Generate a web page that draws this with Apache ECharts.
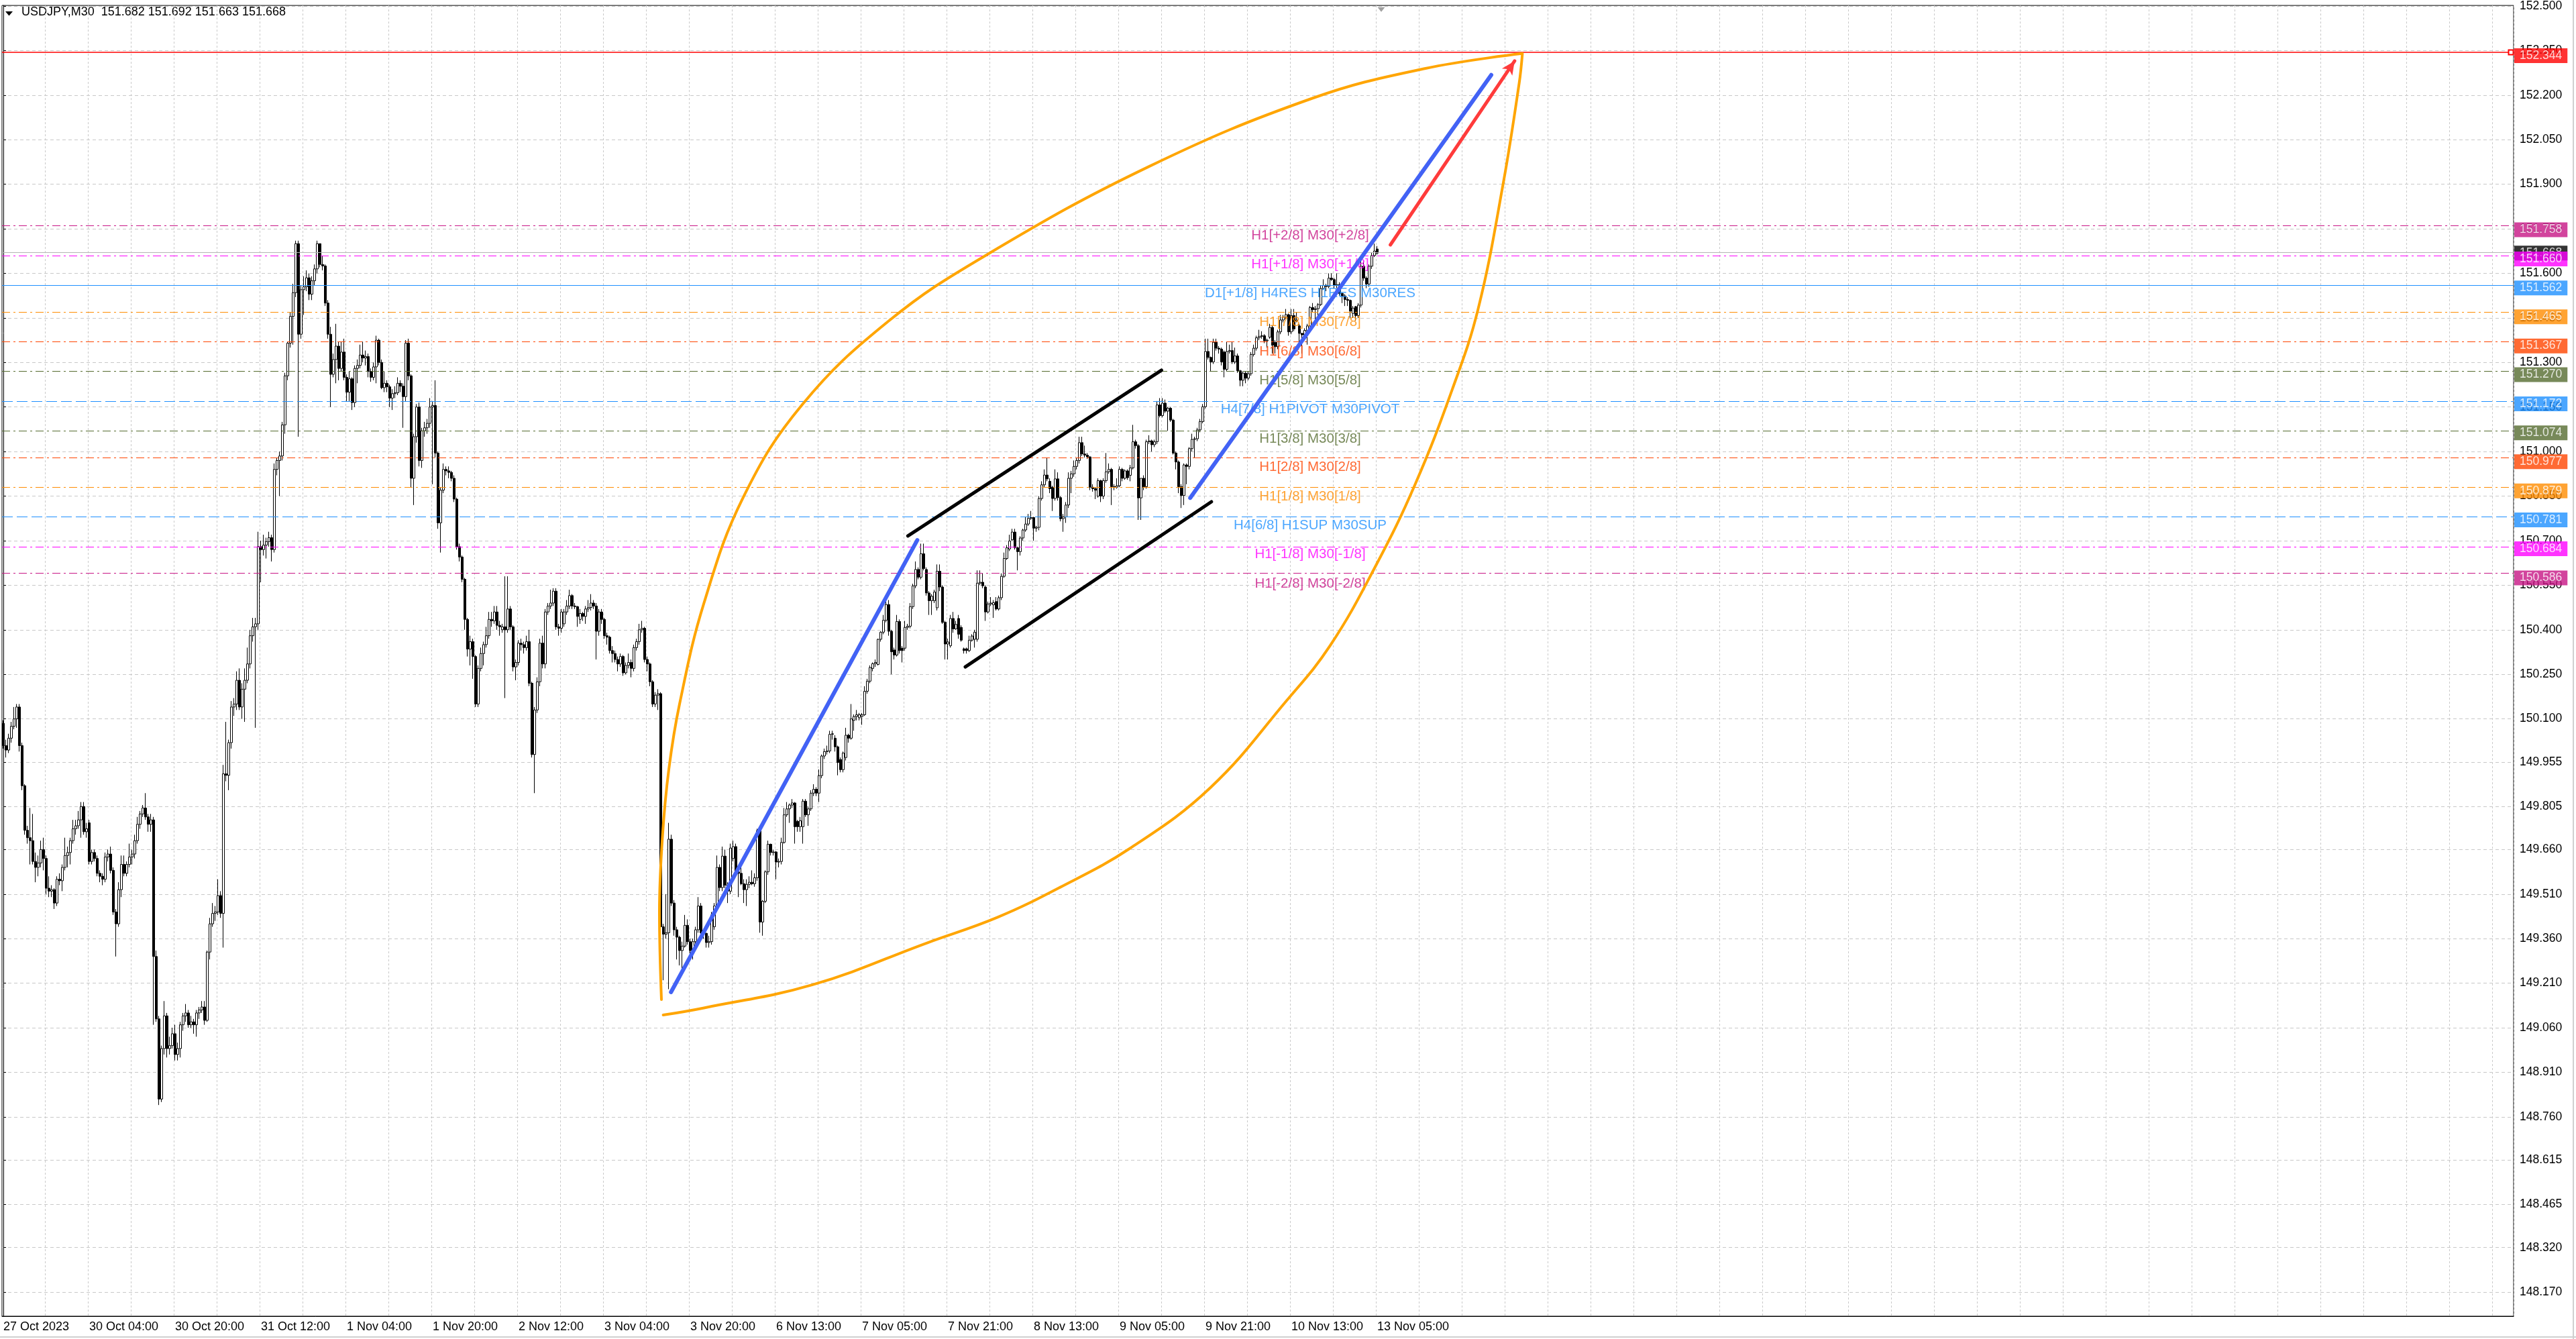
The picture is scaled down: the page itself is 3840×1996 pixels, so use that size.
<!DOCTYPE html>
<html>
<head>
<meta charset="utf-8">
<title>USDJPY,M30</title>
<script src="https://cdn.jsdelivr.net/npm/echarts@6/dist/echarts.min.js"></script>
<style>
  html, body { margin: 0; padding: 0; background: #ffffff; }
  #chart { width: 3840px; height: 1996px; }
</style>
</head>
<body>
<div id="chart"></div>
<script>
// symbol / period shown in the top-left caption
var symbolName = 'USDJPY';
var period = 'M30';

// bottom axis: one label every 32 bars
var timeLabels = ['27 Oct 2023', '30 Oct 04:00', '30 Oct 20:00', '31 Oct 12:00', '1 Nov 04:00',
    '1 Nov 20:00', '2 Nov 12:00', '3 Nov 04:00', '3 Nov 20:00', '6 Nov 13:00', '7 Nov 05:00',
    '7 Nov 21:00', '8 Nov 13:00', '9 Nov 05:00', '9 Nov 21:00', '10 Nov 13:00', '13 Nov 05:00'];
var barsPerLabel = 32;
var slotCount = 936; // bars + empty space on the right

// right axis tick labels (MT4 rounding)
var priceTicks = [152.500, 152.350, 152.200, 152.050, 151.900, 151.750, 151.600, 151.450, 151.300,
    151.150, 151.000, 150.850, 150.700, 150.550, 150.400, 150.250, 150.100, 149.955, 149.805,
    149.660, 149.510, 149.360, 149.210, 149.060, 148.910, 148.760, 148.615, 148.465, 148.320, 148.170];

// M30 bars: [open, high, low, close]
var bars = [
    [150.085,150.095,150.000,150.010],[150.010,150.030,149.970,149.995],[149.995,150.050,149.985,150.035],[150.035,150.090,150.020,150.075],
    [150.075,150.140,150.065,150.100],[150.100,150.150,150.070,150.140],[150.140,150.150,149.990,150.010],[150.010,150.020,149.860,149.875],
    [149.875,149.880,149.710,149.725],[149.725,149.740,149.680,149.700],[149.700,149.800,149.610,149.690],[149.690,149.780,149.610,149.620],
    [149.620,149.650,149.550,149.600],[149.600,149.640,149.570,149.615],[149.615,149.690,149.600,149.660],[149.660,149.700,149.590,149.630],
    [149.630,149.640,149.510,149.530],[149.530,149.570,149.500,149.520],[149.520,149.540,149.500,149.525],[149.525,149.530,149.460,149.480],
    [149.480,149.570,149.470,149.560],[149.560,149.580,149.540,149.555],[149.555,149.610,149.520,149.600],[149.600,149.700,149.590,149.640],
    [149.640,149.670,149.600,149.650],[149.650,149.700,149.610,149.690],[149.690,149.760,149.680,149.730],[149.730,149.760,149.710,149.740],
    [149.740,149.790,149.730,149.760],[149.760,149.820,149.700,149.805],[149.805,149.820,149.710,149.720],[149.720,149.750,149.700,149.730],
    [149.750,149.760,149.610,149.620],[149.620,149.660,149.610,149.650],[149.650,149.660,149.620,149.630],[149.630,149.640,149.570,149.580],
    [149.580,149.590,149.550,149.570],[149.570,149.580,149.540,149.560],[149.560,149.650,149.550,149.635],[149.635,149.660,149.620,149.645],
    [149.645,149.670,149.580,149.590],[149.590,149.600,149.440,149.450],[149.450,149.460,149.300,149.410],[149.410,149.550,149.400,149.525],
    [149.525,149.640,149.500,149.610],[149.610,149.640,149.570,149.580],[149.580,149.620,149.570,149.610],[149.610,149.680,149.600,149.635],
    [149.635,149.660,149.610,149.645],[149.645,149.710,149.630,149.690],[149.690,149.770,149.680,149.745],[149.745,149.790,149.730,149.780],
    [149.780,149.810,149.770,149.800],[149.800,149.850,149.760,149.770],[149.770,149.780,149.720,149.745],[149.745,149.780,149.720,149.760],
    [149.760,149.770,149.070,149.300],[149.300,149.320,149.080,149.090],[149.090,149.100,148.800,148.820],[148.820,149.000,148.810,148.990],
    [148.990,149.150,148.970,149.100],[149.100,149.110,148.960,148.990],[148.990,149.030,148.970,149.000],[149.000,149.060,148.990,149.040],
    [149.040,149.070,148.950,148.970],[148.970,149.010,148.950,148.990],[148.990,149.080,148.960,149.070],[149.070,149.110,149.050,149.100],
    [149.100,149.140,149.080,149.110],[149.110,149.120,149.060,149.070],[149.070,149.100,149.060,149.080],[149.080,149.090,149.040,149.070],
    [149.070,149.120,149.030,149.110],[149.110,149.130,149.090,149.120],[149.120,149.150,149.110,149.130],[149.130,149.150,149.070,149.085],
    [149.085,149.320,149.080,149.315],[149.315,149.430,149.290,149.410],[149.410,149.480,149.400,149.445],[149.445,149.470,149.420,149.450],
    [149.450,149.560,149.440,149.505],[149.505,149.520,149.430,149.445],[149.445,149.945,149.330,149.915],[149.915,150.090,149.890,149.910],
    [149.910,150.030,149.860,150.020],[150.020,150.160,150.000,150.140],[150.140,150.170,150.110,150.150],[150.150,150.260,150.130,150.230],
    [150.230,150.270,150.130,150.140],[150.140,150.220,150.100,150.200],[150.200,150.270,150.090,150.230],[150.230,150.340,150.220,150.285],
    [150.285,150.400,150.270,150.380],[150.380,150.440,150.360,150.410],[150.410,150.440,150.070,150.420],[150.420,150.730,150.400,150.680],
    [150.680,150.700,150.560,150.670],[150.670,150.720,150.650,150.685],[150.685,150.710,150.640,150.697],[150.697,150.730,150.680,150.710],
    [150.710,150.720,150.630,150.670],[150.670,150.960,150.660,150.940],[150.940,150.980,150.920,150.970],[150.970,151.000,150.850,150.985],
    [150.985,151.100,150.970,151.090],[151.090,151.265,151.060,151.255],[151.255,151.370,151.240,151.365],[151.365,151.470,151.350,151.455],
    [151.455,151.565,151.360,151.535],[151.535,151.710,151.520,151.700],[151.700,151.710,151.050,151.395],[151.395,151.560,151.380,151.545],
    [151.545,151.590,151.460,151.555],[151.555,151.610,151.540,151.585],[151.585,151.600,151.510,151.530],[151.530,151.590,151.510,151.575],
    [151.575,151.630,151.560,151.615],[151.615,151.710,151.600,151.700],[151.700,151.700,151.620,151.630],[151.630,151.660,151.610,151.625],
    [151.625,151.630,151.490,151.500],[151.500,151.510,151.380,151.395],[151.395,151.420,151.150,151.260],[151.260,151.330,151.250,151.310],
    [151.310,151.430,151.230,151.355],[151.355,151.370,151.240,151.280],[151.280,151.370,151.270,151.335],[151.335,151.380,151.240,151.250],
    [151.250,151.260,151.170,151.200],[151.200,151.270,151.170,151.245],[151.245,151.250,151.140,151.165],[151.165,151.290,151.150,151.280],
    [151.280,151.310,151.230,151.290],[151.290,151.360,151.280,151.325],[151.325,151.370,151.300,151.315],[151.315,151.340,151.290,151.320],
    [151.320,151.330,151.250,151.270],[151.270,151.280,151.235,151.250],[151.250,151.300,151.240,151.285],[151.285,151.390,151.230,151.375],
    [151.375,151.380,151.290,151.300],[151.300,151.310,151.210,151.215],[151.215,151.270,151.200,151.230],[151.230,151.240,151.200,151.218],
    [151.218,151.225,151.150,151.180],[151.180,151.210,151.140,151.195],[151.195,151.220,151.180,151.198],[151.198,151.250,151.190,151.230],
    [151.230,151.240,151.200,151.220],[151.220,151.230,151.080,151.185],[151.185,151.375,151.170,151.365],[151.365,151.380,151.240,151.255],
    [151.255,151.260,150.880,150.910],[150.910,151.060,150.820,151.050],[151.050,151.160,151.030,151.150],[151.150,151.165,150.950,150.970],
    [150.970,151.080,150.945,151.070],[151.070,151.100,151.050,151.080],[151.080,151.110,151.060,151.095],[151.095,151.180,151.080,151.150],
    [151.150,151.170,150.890,151.155],[151.155,151.240,150.980,150.995],[150.995,151.000,150.740,150.760],[150.760,150.880,150.660,150.870],
    [150.870,150.960,150.860,150.940],[150.940,150.950,150.920,150.935],[150.935,150.950,150.910,150.930],[150.930,150.935,150.900,150.910],
    [150.910,150.920,150.830,150.840],[150.840,150.845,150.670,150.680],[150.680,150.690,150.630,150.645],[150.645,150.650,150.560,150.570],
    [150.570,150.575,150.400,150.435],[150.435,150.440,150.310,150.335],[150.335,150.380,150.280,150.360],[150.360,150.370,150.235,150.310],
    [150.310,150.315,150.140,150.150],[150.150,150.280,150.140,150.270],[150.270,150.340,150.260,150.320],[150.320,150.360,150.280,150.350],
    [150.350,150.410,150.340,150.380],[150.380,150.460,150.370,150.435],[150.435,150.460,150.410,150.430],[150.430,150.480,150.420,150.460],
    [150.460,150.480,150.400,150.415],[150.415,150.430,150.380,150.410],[150.400,150.420,150.390,150.410],[150.410,150.580,150.170,150.400],
    [150.400,150.580,150.390,150.470],[150.470,150.480,150.400,150.410],[150.410,150.415,150.260,150.275],[150.275,150.300,150.230,150.290],
    [150.290,150.365,150.280,150.355],[150.355,150.370,150.330,150.350],[150.350,150.360,150.320,150.340],[150.340,150.380,150.330,150.360],
    [150.360,150.400,150.210,150.220],[150.220,150.225,149.970,149.980],[149.980,150.140,149.850,150.130],[150.130,150.240,150.120,150.225],
    [150.225,150.370,150.210,150.355],[150.355,150.380,150.270,150.285],[150.285,150.470,150.270,150.460],[150.460,150.490,150.450,150.480],
    [150.480,150.535,150.470,150.490],[150.490,150.540,150.480,150.530],[150.530,150.540,150.400,150.410],[150.410,150.420,150.380,150.405],
    [150.405,150.470,150.390,150.460],[150.420,150.470,150.410,150.460],[150.460,150.500,150.450,150.480],[150.480,150.535,150.470,150.515],
    [150.515,150.520,150.470,150.480],[150.480,150.490,150.470,150.478],[150.478,150.480,150.410,150.445],[150.435,150.470,150.420,150.455],
    [150.455,150.460,150.430,150.445],[150.445,150.480,150.420,150.470],[150.470,150.500,150.460,150.475],[150.475,150.520,150.465,150.490],
    [150.490,150.500,150.470,150.480],[150.480,150.490,150.300,150.395],[150.395,150.470,150.380,150.460],[150.460,150.470,150.420,150.435],
    [150.435,150.440,150.370,150.380],[150.380,150.390,150.350,150.375],[150.375,150.380,150.320,150.330],[150.330,150.345,150.290,150.320],
    [150.320,150.330,150.290,150.300],[150.300,150.310,150.260,150.285],[150.285,150.320,150.275,150.310],[150.310,150.315,150.245,150.255],
    [150.255,150.290,150.250,150.280],[150.280,150.320,150.270,150.290],[150.290,150.300,150.240,150.270],[150.270,150.350,150.260,150.340],
    [150.340,150.370,150.330,150.360],[150.360,150.420,150.350,150.400],[150.400,150.430,150.390,150.405],[150.405,150.410,150.290,150.300],
    [150.300,150.310,150.260,150.285],[150.285,150.290,150.210,150.225],[150.225,150.230,150.140,150.150],[150.150,150.190,150.140,150.180],
    [150.180,150.200,150.130,150.185],[150.185,150.190,149.370,149.400],[149.400,149.410,149.220,149.375],[149.375,149.510,149.360,149.380],
    [149.380,149.750,149.190,149.695],[149.695,149.710,149.470,149.480],[149.480,149.490,149.370,149.390],[149.390,149.400,149.290,149.365],
    [149.365,149.370,149.270,149.320],[149.320,149.350,149.250,149.335],[149.335,149.440,149.330,149.405],[149.405,149.425,149.340,149.350],
    [149.350,149.360,149.300,149.320],[149.320,149.360,149.290,149.350],[149.350,149.400,149.340,149.390],[149.390,149.500,149.380,149.470],
    [149.470,149.480,149.370,149.380],[149.380,149.390,149.360,149.378],[149.378,149.380,149.330,149.347],[149.347,149.370,149.330,149.350],
    [149.350,149.450,149.340,149.440],[149.400,149.480,149.390,149.470],[149.470,149.640,149.460,149.600],[149.600,149.610,149.520,149.532],
    [149.532,149.670,149.520,149.638],[149.638,149.660,149.530,149.540],[149.540,149.550,149.480,149.520],[149.520,149.680,149.510,149.665],
    [149.630,149.690,149.620,149.670],[149.670,149.680,149.580,149.585],[149.585,149.590,149.500,149.580],[149.580,149.600,149.540,149.545],
    [149.545,149.560,149.480,149.525],[149.525,149.560,149.470,149.543],[149.543,149.570,149.530,149.550],[149.550,149.590,149.540,149.545],
    [149.545,149.580,149.535,149.565],[149.565,149.730,149.555,149.724],[149.724,149.730,149.380,149.416],[149.416,149.490,149.370,149.486],
    [149.486,149.590,149.480,149.585],[149.585,149.690,149.575,149.678],[149.678,149.680,149.640,149.650],[149.650,149.660,149.640,149.652],
    [149.652,149.655,149.560,149.618],[149.618,149.630,149.600,149.620],[149.620,149.700,149.610,149.684],[149.684,149.800,149.680,149.777],
    [149.777,149.820,149.770,149.797],[149.797,149.815,149.750,149.810],[149.810,149.830,149.800,149.817],[149.817,149.820,149.680,149.737],
    [149.755,149.760,149.720,149.737],[149.737,149.770,149.720,149.757],[149.737,149.830,149.680,149.823],[149.823,149.830,149.770,149.777],
    [149.777,149.805,149.740,149.797],[149.797,149.860,149.790,149.850],[149.850,149.880,149.840,149.863],[149.863,149.870,149.840,149.850],
    [149.850,149.930,149.820,149.909],[149.909,149.980,149.900,149.975],[149.975,150.000,149.965,149.990],[149.990,150.010,149.980,149.992],
    [149.992,150.060,149.985,150.048],[150.048,150.060,150.030,150.050],[150.035,150.045,149.990,150.006],[150.006,150.010,149.910,149.953],
    [149.963,149.970,149.920,149.929],[149.929,149.990,149.920,149.985],[149.970,150.070,149.960,150.045],[150.045,150.050,150.020,150.035],
    [150.035,150.150,150.030,150.100],[150.095,150.115,150.060,150.108],[150.108,150.130,150.095,150.114],[150.104,150.120,150.095,150.114],
    [150.108,150.120,150.080,150.114],[150.114,150.210,150.110,150.193],[150.193,150.235,150.185,150.227],[150.227,150.280,150.220,150.273],
    [150.270,150.290,150.260,150.286],[150.286,150.300,150.275,150.290],[150.283,150.370,150.280,150.368],[150.368,150.395,150.360,150.392],
    [150.392,150.450,150.385,150.432],[150.432,150.500,150.425,150.485],[150.485,150.500,150.380,150.395],[150.395,150.400,150.250,150.326],
    [150.332,150.340,150.300,150.315],[150.315,150.450,150.310,150.428],[150.428,150.435,150.320,150.330],[150.338,150.345,150.290,150.330],
    [150.338,150.430,150.330,150.408],[150.408,150.420,150.400,150.412],[150.412,150.490,150.405,150.478],[150.478,150.555,150.470,150.548],
    [150.548,150.630,150.540,150.603],[150.603,150.610,150.570,150.577],[150.577,150.690,150.570,150.656],[150.656,150.690,150.600,150.606],
    [150.603,150.610,150.515,150.524],[150.524,150.530,150.450,150.498],[150.498,150.520,150.450,150.513],[150.498,150.535,150.490,150.527],
    [150.474,150.620,150.465,150.597],[150.597,150.620,150.530,150.544],[150.544,150.550,150.420,150.425],[150.425,150.430,150.300,150.352],
    [150.352,150.370,150.300,150.359],[150.346,150.450,150.340,150.438],[150.438,150.460,150.390,150.403],[150.403,150.430,150.400,150.418],
    [150.438,150.450,150.370,150.385],[150.408,150.415,150.360,150.365],[150.336,150.340,150.320,150.330],[150.336,150.340,150.320,150.330],
    [150.330,150.380,150.325,150.365],[150.365,150.385,150.360,150.379],[150.368,150.400,150.340,150.392],[150.368,150.600,150.360,150.557],
    [150.557,150.600,150.550,150.560],[150.560,150.590,150.540,150.548],[150.544,150.550,150.430,150.460],[150.460,150.495,150.455,150.487],
    [150.487,150.510,150.480,150.490],[150.484,150.500,150.440,150.491],[150.495,150.510,150.465,150.470],[150.470,150.515,150.465,150.508],
    [150.508,150.590,150.500,150.580],[150.580,150.660,150.575,150.640],[150.640,150.685,150.635,150.676],[150.672,150.720,150.665,150.699],
    [150.703,150.740,150.700,150.729],[150.729,150.740,150.670,150.676],[150.676,150.680,150.600,150.663],[150.663,150.715,150.650,150.709],
    [150.709,150.740,150.700,150.736],[150.736,150.780,150.730,150.756],[150.756,150.790,150.750,150.775],[150.775,150.800,150.770,150.778],
    [150.778,150.780,150.700,150.742],[150.742,150.750,150.730,150.745],[150.745,150.850,150.735,150.842],[150.842,150.900,150.835,150.888],
    [150.888,150.940,150.880,150.921],[150.921,150.980,150.900,150.908],[150.900,150.910,150.860,150.875],[150.880,150.885,150.800,150.842],
    [150.842,150.940,150.835,150.908],[150.908,150.930,150.835,150.845],[150.845,150.850,150.765,150.774],[150.774,150.790,150.730,150.780],
    [150.780,150.830,150.760,150.820],[150.820,150.930,150.810,150.910],[150.910,150.935,150.860,150.925],[150.925,150.970,150.915,150.950],
    [150.950,150.980,150.940,150.970],[150.970,151.050,150.960,151.030],[151.030,151.050,150.985,150.992],[150.992,151.020,150.980,150.988],
    [150.988,150.995,150.975,150.982],[150.982,150.985,150.870,150.880],[150.880,150.890,150.865,150.875],[150.875,150.880,150.840,150.870],
    [150.850,150.910,150.845,150.902],[150.902,150.905,150.830,150.850],[150.850,150.910,150.840,150.902],[150.902,150.995,150.895,150.932],
    [150.932,150.960,150.925,150.940],[150.940,150.945,150.820,150.882],[150.882,150.890,150.870,150.880],[150.880,150.910,150.875,150.885],
    [150.885,150.950,150.880,150.940],[150.940,150.945,150.900,150.910],[150.910,150.940,150.905,150.935],[150.935,150.940,150.905,150.912],
    [150.920,150.955,150.900,150.945],[150.945,151.090,150.940,151.033],[151.033,151.040,151.010,151.020],[151.020,151.025,150.770,150.844],
    [150.844,150.910,150.770,150.910],[150.910,150.920,150.870,150.882],[150.882,151.040,150.875,151.033],[151.033,151.055,151.025,151.036],
    [151.036,151.040,151.000,151.023],[151.023,151.040,151.015,151.033],[151.033,151.170,151.025,151.157],[151.157,151.180,151.115,151.121],
    [151.121,151.180,151.115,151.163],[151.163,151.175,151.130,151.136],[151.136,151.150,151.070,151.146],[151.146,151.150,151.100,151.106],
    [151.106,151.110,150.990,150.995],[150.995,151.000,150.940,150.965],[150.965,150.970,150.860,150.882],[150.882,150.890,150.810,150.852],
    [150.852,150.960,150.820,150.955],[150.955,150.960,150.890,150.950],[150.950,151.015,150.940,151.010],[151.010,151.060,151.000,151.041],
    [151.041,151.050,150.980,151.043],[151.043,151.080,151.035,151.073],[151.073,151.110,151.065,151.101],[151.101,151.160,151.095,151.151],
    [151.151,151.380,151.145,151.337],[151.337,151.380,151.310,151.317],[151.317,151.320,151.270,151.302],[151.302,151.380,151.295,151.368],
    [151.368,151.380,151.340,151.348],[151.348,151.355,151.330,151.345],[151.345,151.350,151.290,151.302],[151.335,151.340,151.250,151.277],
    [151.277,151.370,151.270,151.337],[151.337,151.360,151.330,151.340],[151.340,151.370,151.295,151.302],[151.302,151.350,151.295,151.322],
    [151.322,151.330,151.265,151.272],[151.272,151.275,151.220,151.240],[151.240,151.270,151.220,151.264],[151.264,151.270,151.230,151.247],
    [151.247,151.270,151.240,151.262],[151.262,151.335,151.255,151.327],[151.327,151.360,151.320,151.348],[151.348,151.390,151.340,151.383],
    [151.383,151.410,151.375,151.388],[151.388,151.405,151.380,151.390],[151.390,151.395,151.365,151.373],[151.373,151.380,151.350,151.375],
    [151.385,151.430,151.380,151.418],[151.418,151.425,151.330,151.358],[151.368,151.375,151.330,151.353],[151.353,151.410,151.345,151.403],
    [151.403,151.460,151.395,151.443],[151.443,151.460,151.435,151.453],[151.453,151.480,151.445,151.461],[151.461,151.465,151.390,151.403],
    [151.403,151.480,151.395,151.458],[151.458,151.480,151.405,151.413],[151.440,151.470,151.435,151.443],[151.423,151.430,151.370,151.398],
    [151.398,151.400,151.330,151.393],[151.388,151.415,151.380,151.408],[151.408,151.430,151.360,151.423],[151.423,151.490,151.415,151.485],
    [151.485,151.500,151.470,151.478],[151.478,151.490,151.440,151.481],[151.481,151.500,151.440,151.495],[151.495,151.560,151.490,151.549],
    [151.549,151.580,151.545,151.559],[151.559,151.565,151.540,151.556],[151.556,151.600,151.550,151.584],[151.584,151.600,151.575,151.579],
    [151.579,151.585,151.550,151.559],[151.559,151.600,151.550,151.562],[151.562,151.570,151.525,151.532],[151.532,151.535,151.500,151.524],
    [151.524,151.530,151.490,151.512],[151.512,151.520,151.490,151.509],[151.509,151.512,151.450,151.473],[151.465,151.490,151.450,151.483],
    [151.488,151.490,151.440,151.458],[151.458,151.500,151.450,151.493],[151.493,151.650,151.485,151.624],[151.624,151.640,151.575,151.584],
    [151.584,151.590,151.550,151.564],[151.564,151.630,151.555,151.624],[151.624,151.670,151.615,151.660],[151.660,151.700,151.655,151.675],
    [151.682,151.692,151.663,151.668]
];

// Murrey math levels (text objects + horizontal lines)
var levelPrices = [151.758, 151.660, 151.562, 151.465, 151.367, 151.270, 151.172, 151.074, 150.977, 150.879, 150.781, 150.684, 150.586];
var levelTexts = ['H1[+2/8] M30[+2/8]', 'H1[+1/8] M30[+1/8]', 'D1[+1/8] H4RES H1RES M30RES', 'H1[7/8] M30[7/8]',
    'H1[6/8] M30[6/8]', 'H1[5/8] M30[5/8]', 'H4[7/8] H1PIVOT M30PIVOT', 'H1[3/8] M30[3/8]', 'H1[2/8] M30[2/8]',
    'H1[1/8] M30[1/8]', 'H4[6/8] H1SUP M30SUP', 'H1[-1/8] M30[-1/8]', 'H1[-2/8] M30[-2/8]'];
var levelTextBar = 487;
var levelColors = ['#C71585', '#FF00FF', '#1E90FF', '#FF8C00', '#FF4500', '#556B2F', '#1E90FF',
    '#556B2F', '#FF4500', '#FF8C00', '#1E90FF', '#FF00FF', '#C71585'];
var levelDash = ['dashdot', 'dashdot', 'solid', 'dashdot', 'dashdot', 'dashdot', 'dash',
    'dashdot', 'dashdot', 'dashdot', 'dash', 'dashdot', 'dashdot'];

var targetPrice = 152.344;
var bidPrice = bars[bars.length - 1][3];

// price boxes on the right scale
var boxPrices = [152.344, 151.758, 151.668, 151.660, 151.562, 151.465, 151.367, 151.270, 151.172, 151.074, 150.977, 150.879, 150.781, 150.684, 150.586];
var boxColors = ['#FF0000', '#C71585', '#000000', '#FF00FF', '#1E90FF', '#FF8C00', '#FF4500', '#556B2F',
    '#1E90FF', '#556B2F', '#FF4500', '#FF8C00', '#1E90FF', '#FF00FF', '#C71585'];

// drawn objects, [bar, price]
var blueLine1 = [[248.8, 149.18], [340.6, 150.702]];
var blueLine2 = [[442.3, 150.844], [554.5, 152.268]];
var channelTop = [[337.1, 150.716], [431.6, 151.274]];
var channelBottom = [[358.5, 150.275], [450.2, 150.831]];
var redArrow = [[516.9, 151.696], [563.2, 152.315]];
var arcUpper = [[245.25, 149.155], [244.5, 149.45], [245.6, 149.70], [248, 149.93], [252, 150.15],
    [261.1, 150.49], [275.85, 150.848], [297.8, 151.159], [330, 151.44], [366, 151.66], [427, 151.96],
    [488, 152.19], [530, 152.29], [566, 152.34]];
var arcLower = [[245.9, 149.103], [261.1, 149.127], [301.6, 149.205], [344.6, 149.347], [370.5, 149.432],
    [393.6, 149.532], [420, 149.665], [450, 149.87], [478.1, 150.16], [494.4, 150.346], [511.6, 150.618],
    [526.1, 150.889], [540, 151.21], [549.6, 151.48], [558.9, 151.90], [564.9, 152.24], [566.1, 152.34]];

var FONT = 'Liberation Sans, Arial, sans-serif';

var chart = echarts.init(document.getElementById('chart'));

var slots = [];
for (var i = 0; i < slotCount; i++) slots.push(String(i));

var candleData = bars.map(function (b) { return [b[0], b[3], b[2], b[1]]; });

function labelAt(index) {
    return index % barsPerLabel === 0 && index / barsPerLabel < timeLabels.length;
}

function dashOf(kind) {
    if (kind === 'dashdot') return [12, 5, 3, 5];
    if (kind === 'dash') return [16, 6];
    return 'solid';
}

var levelLines = levelPrices.map(function (p, i) {
    return { yAxis: p, lineStyle: { color: levelColors[i], width: 1, type: dashOf(levelDash[i]) } };
});
levelLines.push({ yAxis: bidPrice, lineStyle: { color: '#B4B4B4', width: 1, type: 'solid' } });

function trend(name, pts, color, width, smooth) {
    return {
        type: 'line', name: name, xAxisIndex: 1, yAxisIndex: 0, data: pts,
        symbol: 'none', smooth: smooth || false, silent: true, z: 5,
        lineStyle: { color: color, width: width, cap: 'round' }
    };
}

var option = {
    backgroundColor: '#ffffff',
    animation: false,
    grid: { left: 3, right: 93, top: 4, bottom: 34, show: true, borderColor: '#000000', borderWidth: 1 },
    xAxis: [{
        type: 'category', data: slots, boundaryGap: true,
        axisLine: { lineStyle: { color: '#000000', width: 1 } },
        axisTick: { interval: function (idx) { return labelAt(idx); }, alignWithLabel: true, length: 4, lineStyle: { color: '#000000' } },
        axisLabel: {
            interval: function (idx) { return labelAt(idx); },
            formatter: function (v, idx) { return timeLabels[idx / barsPerLabel]; },
            align: 'left', margin: 7, color: '#000000', fontSize: 18, fontFamily: FONT
        },
        splitLine: {
            show: true,
            interval: function (idx) { return idx > 0 && idx % 16 === 0; },
            lineStyle: { color: '#C8C8C8', width: 1, type: [3, 3] }
        }
    }, {
        type: 'value', min: -0.5, max: slotCount - 0.5, show: false
    }],
    yAxis: {
        type: 'value', position: 'right', min: 148.089, max: 152.502,
        axisLine: { show: true, lineStyle: { color: '#000000', width: 1 } },
        axisTick: { show: true, length: 4, customValues: priceTicks, lineStyle: { color: '#000000' } },
        axisLabel: {
            customValues: priceTicks, margin: 9, color: '#000000', fontSize: 17.5, fontFamily: FONT,
            formatter: function (v) { return v.toFixed(3); }
        },
        splitLine: { show: true, lineStyle: { color: '#C8C8C8', width: 1, type: [5, 4] } }
    },
    series: [{
        type: 'candlestick', name: symbolName, data: candleData, barWidth: 2.6, z: 2,
        itemStyle: { color: '#ffffff', color0: '#000000', borderColor: '#000000', borderColor0: '#000000', borderWidth: 1 }
    }, {
        type: 'scatter', name: 'levels', xAxisIndex: 1, yAxisIndex: 0, symbolSize: 0, silent: true, z: 3,
        data: levelPrices.map(function (p, i) {
            return { value: [levelTextBar, p], label: { color: levelColors[i] } };
        }),
        label: {
            show: true, position: 'bottom', distance: 3, fontSize: 20.5, fontFamily: FONT,
            formatter: function (p) { return levelTexts[p.dataIndex]; }
        },
        markLine: { silent: true, symbol: 'none', label: { show: false }, data: levelLines },
        markPoint: {
            silent: true, symbol: 'triangle', symbolRotate: 180, symbolSize: [11, 7],
            itemStyle: { color: '#A0A0A0' }, label: { show: false },
            data: [{ coord: [513.5, 152.488] }]
        }
    },
        trend('arc upper', arcUpper, '#FFA500', 4, 0.4),
        trend('arc lower', arcLower, '#FFA500', 4, 0.4),
        trend('channel top', channelTop, '#000000', 5),
        trend('channel bottom', channelBottom, '#000000', 5),
        trend('impulse 1', blueLine1, '#4262F5', 6),
        trend('impulse 2', blueLine2, '#4262F5', 6),
    {
        type: 'scatter', name: 'price boxes', xAxisIndex: 1, yAxisIndex: 0, symbolSize: 0, silent: true, clip: false, z: 6,
        data: boxPrices.map(function (p, i) {
            return { value: [slotCount - 0.5, p], label: { backgroundColor: boxColors[i], offset: [0, p === bidPrice ? 0 : 5] } };
        }),
        label: {
            show: true, position: 'right', distance: 1, color: '#ffffff', fontSize: 17.5, lineHeight: 17,
            padding: [3, 8, 2, 8], fontFamily: FONT,
            formatter: function (p) { return p.value[1].toFixed(3); }
        },
        markLine: {
            silent: true, label: { show: false }, symbol: 'none',
            data: [
                [{ coord: [-0.5, targetPrice], symbol: 'none', lineStyle: { color: '#FF0000', width: 1.5, type: 'solid' } },
                 { coord: [slotCount - 1.5, targetPrice], symbol: 'emptyRect', symbolSize: 7 }],
                [{ coord: redArrow[0], symbol: 'none', lineStyle: { color: '#FF3B3B', width: 5, type: 'solid', cap: 'round' } },
                 { coord: redArrow[1], symbol: 'arrow', symbolSize: [14, 20] }]
            ]
        }
    }],
    graphic: [
        { type: 'polygon', shape: { points: [[8, 17], [19, 17], [13.5, 23.5]] }, style: { fill: '#000000' } },
        {
            type: 'text', left: 32, top: 9,
            style: {
                text: symbolName + ',' + period + '  ' + bars[bars.length - 1].map(function (v) { return v.toFixed(3); }).join(' '),
                fill: '#000000', font: '18px ' + FONT
            }
        },
        { type: 'line', shape: { x1: 3836, y1: 0, x2: 3836, y2: 1996 }, style: { stroke: '#D0D0D0', lineWidth: 2 } },
        { type: 'line', shape: { x1: 0, y1: 1993, x2: 3840, y2: 1993 }, style: { stroke: '#D0D0D0', lineWidth: 2 } }
    ]
};

chart.setOption(option);
</script>
</body>
</html>
